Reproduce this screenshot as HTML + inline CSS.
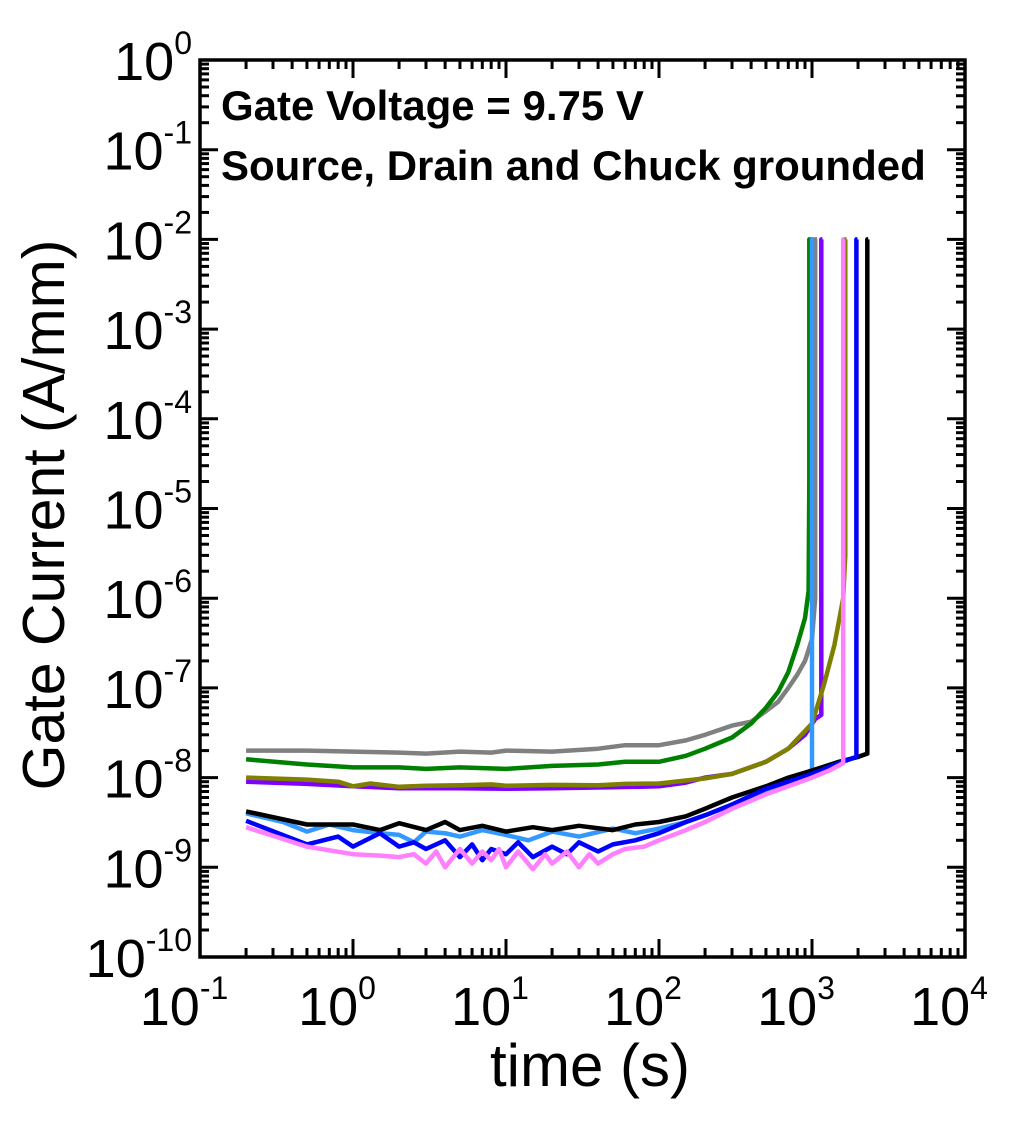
<!DOCTYPE html>
<html><head><meta charset="utf-8"><style>
html,body{margin:0;padding:0;background:#fff;}
svg{display:block;font-family:"Liberation Sans",Arial,sans-serif;}
</style></head><body>
<svg id="chart" width="1024" height="1127" viewBox="0 0 1024 1127">
<g id="axes"></g>
<g id="series"></g>
<rect x="200" y="60" width="765" height="897" fill="none" stroke="#000" stroke-width="3.5"/>
<text x="221" y="120" font-size="42" font-weight="bold">Gate Voltage = 9.75 V</text>
<text x="221" y="180" font-size="42" font-weight="bold">Source, Drain and Chuck grounded</text>
<text x="590" y="1086" font-size="60" text-anchor="middle">time (s)</text>
<text transform="translate(64,515) rotate(-90)" font-size="59" text-anchor="middle">Gate Current (A/mm)</text>
</svg>
<script>
const xTickExps = [-1,0,1,2,3,4];
const yTickExps = [0,-1,-2,-3,-4,-5,-6,-7,-8,-9,-10];
const seriesNames = ['gray','green','purple','olive','cyan','black','blue','pink'];
const seriesColors = ['#808080','#008000','#8000ff','#808000','#3399ff','#000000','#0000ff','#ff80ff'];
const tGray = [0.2,0.5,1,2,3,5,8,10,20,40,60,100,150,200,300,400,500,600,700,800,900,1000,1050,1050,1080];
const iGray = [2.0e-8,2.0e-8,1.95e-8,1.9e-8,1.85e-8,1.95e-8,1.9e-8,2.0e-8,1.95e-8,2.1e-8,2.3e-8,2.3e-8,2.6e-8,3.0e-8,3.8e-8,4.2e-8,5.5e-8,7e-8,1e-7,1.4e-7,2.0e-7,3.5e-7,1e-6,1e-2,1e-2];
const tGreen = [0.2,0.5,1,2,3,5,10,20,40,60,100,150,200,300,400,500,600,700,800,900,950,960,960,990];
const iGreen = [1.6e-8,1.4e-8,1.3e-8,1.3e-8,1.25e-8,1.3e-8,1.25e-8,1.35e-8,1.4e-8,1.5e-8,1.5e-8,1.75e-8,2.1e-8,2.8e-8,4e-8,6e-8,9e-8,1.5e-7,3e-7,6e-7,1.2e-6,2e-5,1e-2,1e-2];
const tPurple = [0.2,0.5,1,2,5,10,20,50,100,150,200,300,500,700,900,1050,1150,1150,1170];
const iPurple = [9e-9,8.5e-9,8e-9,7.6e-9,7.6e-9,7.5e-9,7.6e-9,7.8e-9,8e-9,8.8e-9,1e-8,1.1e-8,1.5e-8,2.1e-8,3e-8,4.5e-8,5e-8,1e-2,1e-2];
const tOlive = [0.2,0.5,0.8,1,1.3,2,3,5,8,10,20,40,60,100,200,300,500,700,1000,1200,1400,1600,1650,1650,1680];
const iOlive = [1.0e-8,9.5e-9,9e-9,8e-9,8.6e-9,7.9e-9,8.1e-9,8.2e-9,8.4e-9,8.1e-9,8.3e-9,8.2e-9,8.5e-9,8.6e-9,9.8e-9,1.1e-8,1.5e-8,2.1e-8,4e-8,1.1e-7,3e-7,1e-6,3e-6,1e-2,1e-2];
const tCyan = [0.2,0.35,0.5,0.7,1,1.5,2,2.5,3,4,5,7,10,14,20,30,50,70,100,150,200,300,500,700,900,1000,1000,1030];
const iCyan = [4e-9,3.2e-9,2.5e-9,3e-9,2.6e-9,2.4e-9,2.3e-9,1.9e-9,2.5e-9,2.4e-9,2.2e-9,2.6e-9,2.3e-9,2.0e-9,2.5e-9,2.2e-9,2.7e-9,2.4e-9,2.7e-9,3.2e-9,3.8e-9,5e-9,7e-9,8.5e-9,1e-8,1.05e-8,1e-2,1e-2];
const tBlack = [0.2,0.5,1,1.5,2,3,4,5,7,10,15,20,30,50,70,100,150,200,300,500,700,1000,1500,2000,2300,2300,2330];
const iBlack = [4.2e-9,3e-9,3e-9,2.6e-9,3.1e-9,2.6e-9,3.2e-9,2.6e-9,2.9e-9,2.5e-9,2.8e-9,2.6e-9,2.9e-9,2.6e-9,3e-9,3.2e-9,3.7e-9,4.5e-9,6e-9,8e-9,1e-8,1.2e-8,1.5e-8,1.7e-8,1.85e-8,1e-2,1e-2];
const tBlue = [0.2,0.5,0.8,1,1.5,2,2.5,3,4,5,6,7,8,10,12,15,20,25,30,40,50,70,100,150,200,300,500,700,1000,1500,1950,1950,1980];
const iBlue = [3.3e-9,1.8e-9,2.2e-9,1.7e-9,2.4e-9,1.7e-9,1.9e-9,1.6e-9,2e-9,1.3e-9,1.8e-9,1.2e-9,1.6e-9,1.4e-9,1.9e-9,1.3e-9,1.7e-9,1.4e-9,1.9e-9,1.5e-9,1.8e-9,2e-9,2.4e-9,3.2e-9,3.8e-9,5e-9,7.5e-9,9e-9,1.1e-8,1.45e-8,1.7e-8,1e-2,1e-2];
const tPink = [0.2,0.5,1,1.5,2,2.5,3,3.5,4,5,6,7,8,9,10,12,15,18,20,25,30,35,40,50,60,80,100,150,200,300,500,700,1000,1300,1600,1600,1630];
const iPink = [2.8e-9,1.7e-9,1.4e-9,1.35e-9,1.3e-9,1.4e-9,1.1e-9,1.5e-9,1e-9,1.6e-9,1.1e-9,1.5e-9,1.2e-9,1.6e-9,1e-9,1.5e-9,0.95e-9,1.4e-9,1.1e-9,1.5e-9,1e-9,1.4e-9,1.1e-9,1.4e-9,1.6e-9,1.7e-9,2e-9,2.6e-9,3.2e-9,4.5e-9,6.5e-9,8e-9,1e-8,1.2e-8,1.45e-8,1e-2,1e-2];
const seriesT = [tGray,tGreen,tPurple,tOlive,tCyan,tBlack,tBlue,tPink];
const seriesI = [iGray,iGreen,iPurple,iOlive,iCyan,iBlack,iBlue,iPink];

const X0=200,X1=965,Y0=60,Y1=957;
const xMin=-1,xMax=4,yMin=-10,yMax=0;
function xs(t){return X0+(Math.log10(t)-xMin)/(xMax-xMin)*(X1-X0);}
function ys(v){return Y1-(Math.log10(v)-yMin)/(yMax-yMin)*(Y1-Y0);}
const NS='http://www.w3.org/2000/svg';
const axes=document.getElementById('axes');
function mk(tag,attrs,parent){const e=document.createElementNS(NS,tag);for(const k in attrs)e.setAttribute(k,attrs[k]);parent.appendChild(e);return e;}

xTickExps.forEach((e,i)=>{
  const x=xs(Math.pow(10,e));
  if(i>0&&i<xTickExps.length-1){
    const l=mk('line',{x1:x,x2:x,y1:Y1,y2:Y1-18,stroke:'#000','stroke-width':3},axes);
    
    
    const l2=mk('line',{x1:x,x2:x,y1:Y0,y2:Y0+18,stroke:'#000','stroke-width':3},axes);
    
    
  }
  if(e<xMax){for(let m=2;m<10;m++){
    const xm=xs(m*Math.pow(10,e));
    const a=mk('line',{x1:xm,x2:xm,y1:Y1,y2:Y1-9,stroke:'#000','stroke-width':3},axes);
    
    
    const b=mk('line',{x1:xm,x2:xm,y1:Y0,y2:Y0+9,stroke:'#000','stroke-width':3},axes);
    
    
  }}
  const t=mk('text',{x:x-16,y:1025,'font-size':54,'text-anchor':'middle'},axes);
  
  
  t.textContent='10';
  const s=mk('tspan',{dy:-26,'font-size':32},t);
  s.textContent=String(e);
});
yTickExps.forEach((e,i)=>{
  const y=ys(Math.pow(10,e));
  if(i>0&&i<yTickExps.length-1){
    const l=mk('line',{x1:X0,x2:X0+18,y1:y,y2:y,stroke:'#000','stroke-width':3},axes);
    
    
    const l2=mk('line',{x1:X1,x2:X1-18,y1:y,y2:y,stroke:'#000','stroke-width':3},axes);
    
    
  }
  if(e>yMin){for(let m=2;m<10;m++){
    const ym=ys(m*Math.pow(10,e-1));
    const a=mk('line',{x1:X0,x2:X0+9,y1:ym,y2:ym,stroke:'#000','stroke-width':3},axes);
    
    
    const b=mk('line',{x1:X1,x2:X1-9,y1:ym,y2:ym,stroke:'#000','stroke-width':3},axes);
    
    
  }}
  const t=mk('text',{x:192,y:y+20,'font-size':54,'text-anchor':'end'},axes);
  
  
  t.textContent='10';
  const s=mk('tspan',{dy:-26,'font-size':32},t);
  s.textContent=String(e);
});
const sg=document.getElementById('series');
seriesNames.forEach((n,k)=>{
  const T=seriesT[k],I=seriesI[k];
  const pts=T.map((t,j)=>xs(t).toFixed(1)+','+ys(I[j]).toFixed(1)).join(' ');
  const p=mk('polyline',{points:pts,fill:'none',stroke:seriesColors[k],'stroke-width':4.5,'stroke-linejoin':'round'},sg);
  
  
});
</script>
</body></html>
